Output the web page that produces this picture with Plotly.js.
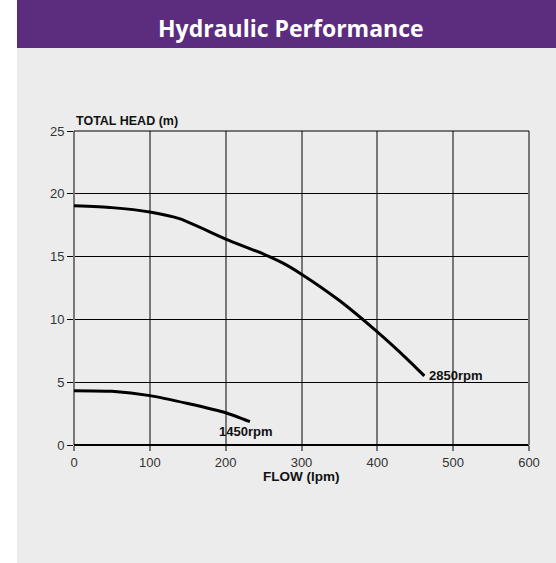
<!DOCTYPE html>
<html>
<head>
<meta charset="utf-8">
<script src="https://cdn.plot.ly/plotly-3.0.1.min.js"></script>
<style>html,body{margin:0;padding:0;background:#fff;}#chart{width:556px;height:563px;}</style>
</head>
<body>
<div id="chart"></div>
<script>
// Data
var flow2850 = [0, 50, 100, 140, 200, 250, 275, 300, 350, 400, 440, 462];
var head2850 = [19.05, 18.9, 18.55, 18.0, 16.4, 15.2, 14.5, 13.6, 11.5, 9.0, 6.8, 5.5];
var flow1450 = [0, 50, 100, 150, 200, 232];
var head1450 = [4.32, 4.27, 3.93, 3.3, 2.57, 1.86];
var xTicks = [0, 100, 200, 300, 400, 500, 600];
var yTicks = [0, 5, 10, 15, 20, 25];
var labels = {speed1: "2850rpm", speed2: "1450rpm"};
var chartTitle = "Hydraulic Performance";
var xTitle = "FLOW (lpm)";
var yTitle = "TOTAL HEAD (m)";

var W = 556, H = 563, L = 74, R = 27, T = 131, B = 118;
var pw = W - L - R, ph = H - T - B;
function px(x){ return (x - L) / pw; }
function py(y){ return (H - B - y) / ph; }

var xMax = xTicks[xTicks.length - 1], yMax = yTicks[yTicks.length - 1];

var traces = [
  {x: flow2850, y: head2850, mode: 'lines', line: {color: '#000', width: 3, shape: 'spline', smoothing: 0.6}, hoverinfo: 'skip'},
  {x: flow1450, y: head1450, mode: 'lines', line: {color: '#000', width: 3, shape: 'spline', smoothing: 0.6}, hoverinfo: 'skip'}
];

var tickFont = {family: 'Liberation Sans, Arial, sans-serif', size: 13, color: '#333'};
function bold(s){ return {family: 'Liberation Sans, Arial, sans-serif', size: s, color: '#111', weight: 'bold'}; }

var layout = {
  width: W, height: H,
  margin: {l: L, r: R, t: T, b: B, pad: 0},
  paper_bgcolor: '#ececec',
  plot_bgcolor: '#ececec',
  showlegend: false,
  xaxis: {
    range: [0, xMax], tickvals: xTicks, ticktext: xTicks.map(String),
    showgrid: true, gridcolor: '#777', gridwidth: 2,
    zeroline: true, zerolinecolor: '#777', zerolinewidth: 2,
    showline: false, ticks: 'outside', ticklen: 5, tickwidth: 2, tickcolor: '#777',
    tickfont: tickFont, fixedrange: true
  },
  yaxis: {
    range: [0, yMax], tickvals: yTicks, ticktext: yTicks.map(String),
    showgrid: true, gridcolor: '#000', gridwidth: 1,
    zeroline: true, zerolinecolor: '#000', zerolinewidth: 1.5,
    showline: false, ticks: 'outside', ticklen: 6, tickwidth: 1, tickcolor: '#000',
    tickfont: tickFont, fixedrange: true
  },
  shapes: [
    {type: 'rect', xref: 'paper', yref: 'paper', x0: px(0), x1: px(17), y0: py(H), y1: py(0), fillcolor: '#ffffff', line: {width: 0}, layer: 'below'},
    {type: 'rect', xref: 'paper', yref: 'paper', x0: px(17), x1: px(W), y0: py(48), y1: py(0), fillcolor: '#5c2d7e', line: {width: 0}, layer: 'below'},
    {type: 'line', xref: 'paper', yref: 'paper', x0: 1, x1: 1, y0: 0, y1: 1, line: {color: '#777', width: 2}, layer: 'above'},
    {type: 'line', xref: 'paper', yref: 'paper', x0: 0, x1: 1, y0: 1, y1: 1, line: {color: '#000', width: 1}, layer: 'above'}
  ],
  annotations: [
    {text: chartTitle, xref: 'paper', yref: 'paper', x: px(291), y: py(28), xanchor: 'center', yanchor: 'middle', showarrow: false,
     font: {family: 'Open Sans, sans-serif', size: 23, color: '#ffffff', weight: 700}},
    {text: yTitle, xref: 'paper', yref: 'paper', x: px(74), y: py(121), xanchor: 'left', yanchor: 'middle', showarrow: false, font: bold(12.5)},
    {text: xTitle, xref: 'paper', yref: 'paper', x: px(301), y: py(476), xanchor: 'center', yanchor: 'middle', showarrow: false, font: bold(13.5)},
    {text: labels.speed1, xref: 'x', yref: 'y', x: 466, y: 5.5, xanchor: 'left', yanchor: 'middle', showarrow: false, font: bold(13)},
    {text: labels.speed2, xref: 'x', yref: 'y', x: 188, y: 1.04, xanchor: 'left', yanchor: 'middle', showarrow: false, font: bold(13)}
  ]
};

Plotly.newPlot('chart', traces, layout, {staticPlot: true, displayModeBar: false});
</script>
</body>
</html>
